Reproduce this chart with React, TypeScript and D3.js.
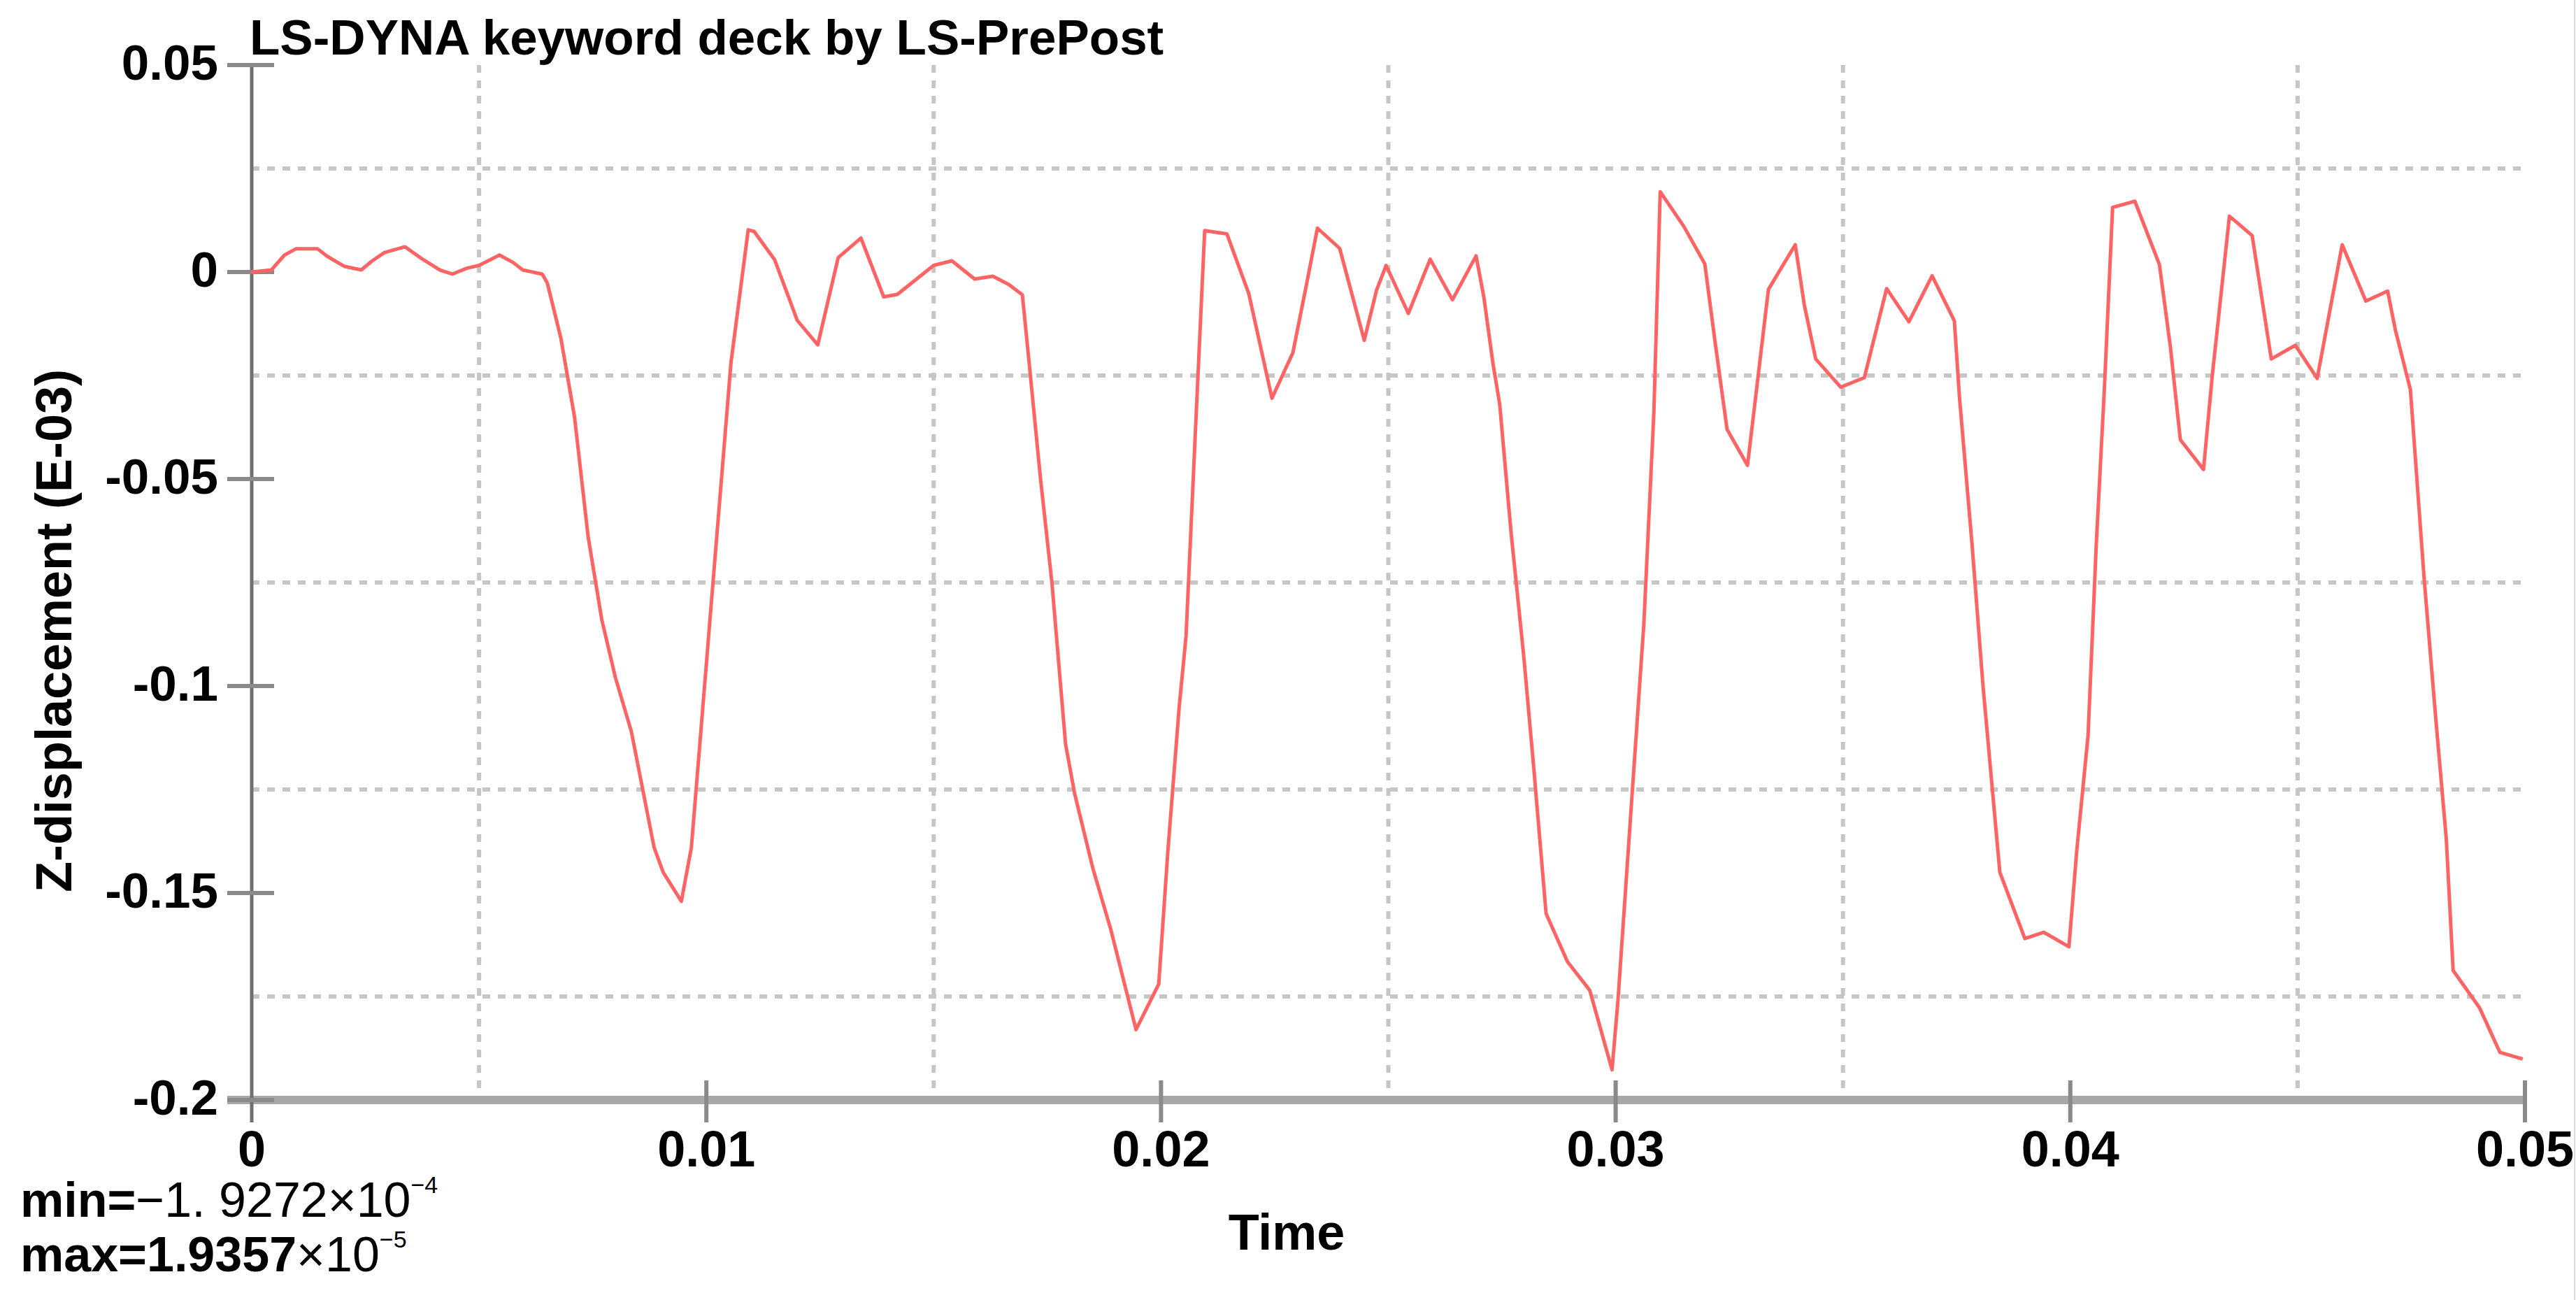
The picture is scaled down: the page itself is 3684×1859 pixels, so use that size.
import React from 'react';
import * as d3 from 'd3';

// Time samples in milliseconds (converted to seconds for the axis)
const timeMs = [
  0.0, 0.43, 0.72, 0.97, 1.45, 1.66, 2.03, 2.41, 2.65, 2.92, 3.37, 3.77, 4.14, 4.41, 4.73, 5.0, 5.45, 5.75, 5.96, 6.39,
  6.5, 6.8, 7.1, 7.4, 7.7, 8.0, 8.35, 8.85, 9.05, 9.45, 9.67, 10.54, 10.92, 11.05, 11.5, 12.0, 12.45, 12.9, 13.4, 13.9,
  14.2, 15.0, 15.4, 15.9, 16.3, 16.65, 16.95, 17.1, 17.35, 17.6, 17.9, 18.1, 18.5, 18.9, 19.45, 19.95, 20.15, 20.4, 20.55, 20.75,
  20.96, 21.45, 21.93, 22.44, 22.9, 23.2, 23.44, 23.93, 24.47, 24.74, 24.95, 25.44, 25.92, 26.41, 26.93, 27.1, 27.3, 27.45, 27.7, 27.98,
  28.2, 28.47, 28.94, 29.43, 29.92, 30.05, 30.35, 30.62, 30.84, 30.98, 31.5, 31.96, 32.2, 32.45, 32.9, 33.36, 33.95, 34.15, 34.4, 34.95,
  35.47, 35.96, 36.45, 36.96, 37.45, 37.56, 37.84, 38.08, 38.45, 39.0, 39.42, 39.97, 40.14, 40.39, 40.57, 40.75, 40.93, 41.42, 41.96, 42.2,
  42.42, 42.93, 43.12, 43.5, 44.0, 44.42, 44.95, 45.43, 45.98, 46.5, 46.98, 47.15, 47.48, 47.78, 48.03, 48.27, 48.42, 49.0, 49.45, 49.95,
];

// Z-displacement values in units of E-03
const zDispE3 = [
  0.0, 0.0005, 0.0041, 0.0056, 0.0056, 0.0038, 0.0014, 0.0005, 0.0027, 0.0047, 0.0061, 0.003, 0.0005, -0.0005, 0.0009, 0.0016, 0.0041, 0.0023, 0.0005, -0.0005,
  -0.0026, -0.016, -0.035, -0.064, -0.084, -0.098, -0.111, -0.139, -0.145, -0.152, -0.139, -0.022, 0.0102, 0.0098, 0.003, -0.0117, -0.0176, 0.0035, 0.0082, -0.006,
  -0.0054, 0.0016, 0.0027, -0.0017, -0.001, -0.003, -0.0055, -0.022, -0.05, -0.075, -0.114, -0.126, -0.144, -0.159, -0.183, -0.172, -0.14, -0.105, -0.088, -0.04,
  0.01, 0.0092, -0.0052, -0.0305, -0.0195, -0.003, 0.0106, 0.0057, -0.0165, -0.0044, 0.0016, -0.01, 0.0031, -0.0067, 0.0039, -0.006, -0.022, -0.032, -0.063, -0.093,
  -0.12, -0.155, -0.1666, -0.1735, -0.1927, -0.176, -0.128, -0.085, -0.034, 0.0194, 0.011, 0.002, -0.018, -0.038, -0.0467, -0.0042, 0.0066, -0.008, -0.021, -0.0278,
  -0.0255, -0.004, -0.012, -0.0009, -0.0118, -0.03, -0.066, -0.1, -0.145, -0.161, -0.1595, -0.163, -0.14, -0.112, -0.066, -0.028, 0.0156, 0.0171, 0.0018, -0.018,
  -0.0405, -0.0477, -0.0253, 0.0135, 0.0088, -0.021, -0.0177, -0.0257, 0.0066, -0.007, -0.0046, -0.014, -0.0284, -0.0737, -0.1068, -0.137, -0.1687, -0.1777, -0.1885, -0.1901,
];

const xTicks = [0, 0.01, 0.02, 0.03, 0.04, 0.05];
const xTickLabels = ['0', '0.01', '0.02', '0.03', '0.04', '0.05'];
const yTicks = [0.05, 0, -0.05, -0.1, -0.15, -0.2];
const yTickLabels = ['0.05', '0', '-0.05', '-0.1', '-0.15', '-0.2'];
const xGrid = [0.005, 0.015, 0.025, 0.035, 0.045];
const yGrid = [0.025, -0.025, -0.075, -0.125, -0.175];

const titleText = 'LS-DYNA keyword deck by LS-PrePost';
const xLabel = 'Time';
const yLabel = 'Z-displacement (E-03)';

const W = 3684;
const H = 1859;
const FONT = '"Liberation Sans", Arial, Helvetica, sans-serif';

export default function App() {
  const x = d3.scaleLinear().domain([0, 0.05]).range([360, 3611]);
  const y = d3.scaleLinear().domain([-0.2, 0.05]).range([1573, 93]);

  const pts: [number, number][] = timeMs.map((t, i) => [t / 1000, zDispE3[i]]);
  const line = d3
    .line<[number, number]>()
    .x((d) => x(d[0]))
    .y((d) => y(d[1]));

  const x0 = x(0);
  const x1 = x(0.05);
  const yTop = y(0.05);
  const yBot = y(-0.2);

  return (
    <svg
      width={W}
      height={H}
      viewBox={`0 0 ${W} ${H}`}
      style={{ position: 'absolute', left: 0, top: 0, display: 'block', background: '#fff' }}
      fontFamily={FONT}
    >
      <rect x={0} y={0} width={W} height={H} fill="#ffffff" />

      {/* grid */}
      {xGrid.map((g) => (
        <line
          key={'xg' + g}
          x1={x(g)}
          x2={x(g)}
          y1={yTop}
          y2={yBot}
          stroke="#c6c6c6"
          strokeWidth={6}
          strokeDasharray="11 11"
        />
      ))}
      {yGrid.map((g) => (
        <line
          key={'yg' + g}
          x1={x0}
          x2={x1}
          y1={y(g)}
          y2={y(g)}
          stroke="#c6c6c6"
          strokeWidth={6}
          strokeDasharray="11 11"
        />
      ))}

      {/* x axis */}
      <line x1={325} x2={x1} y1={yBot} y2={yBot} stroke="#a8a8a8" strokeWidth={12} />
      {xTicks.map((t, i) => (
        <g key={'xt' + i}>
          {i > 0 && (
            <line x1={x(t)} x2={x(t)} y1={1545} y2={1605} stroke="#8a8a8a" strokeWidth={6} />
          )}
          <text
            x={x(t)}
            y={1668}
            textAnchor="middle"
            fontSize={72}
            fontWeight="bold"
            fill="#000"
          >
            {xTickLabels[i]}
          </text>
        </g>
      ))}

      {/* y axis */}
      <line x1={x0} x2={x0} y1={yTop} y2={1605} stroke="#707070" strokeWidth={5} />
      {yTicks.map((t, i) => (
        <g key={'yt' + i}>
          <line x1={325} x2={392} y1={y(t)} y2={y(t)} stroke="#8a8a8a" strokeWidth={6} />
          <text
            x={312}
            y={y(t) + 21}
            textAnchor="end"
            fontSize={71}
            fontWeight="bold"
            fill="#000"
          >
            {yTickLabels[i]}
          </text>
        </g>
      ))}

      {/* data */}
      <path
        d={line(pts) || ''}
        fill="none"
        stroke="#ff6464"
        strokeWidth={5}
        strokeLinejoin="round"
      />

      {/* title */}
      <text x={357} y={78} fontSize={71} fontWeight="bold" fill="#000">
        {titleText}
      </text>

      {/* axis labels */}
      <text x={1840} y={1787} textAnchor="middle" fontSize={72} fontWeight="bold" fill="#000">
        {xLabel}
      </text>
      <text
        transform={`translate(102,902) rotate(-90)`}
        textAnchor="middle"
        fontSize={72}
        fontWeight="bold"
        fill="#000"
      >
        {yLabel}
      </text>

      {/* min / max annotation */}
      <text x={29} y={1740} fontSize={70} fill="#000">
        <tspan fontWeight="bold">min=</tspan>
        <tspan>−1. 9272×10</tspan>
        <tspan dy={-34} fontSize={34}>−4</tspan>
      </text>
      <text x={29} y={1818} fontSize={70} fill="#000">
        <tspan fontWeight="bold">max=1.9357</tspan>
        <tspan>×10</tspan>
        <tspan dy={-34} fontSize={34}>−5</tspan>
      </text>

      {/* right border */}
      <line x1={3682} x2={3682} y1={0} y2={H} stroke="#dcdcdc" strokeWidth={2} />
    </svg>
  );
}
